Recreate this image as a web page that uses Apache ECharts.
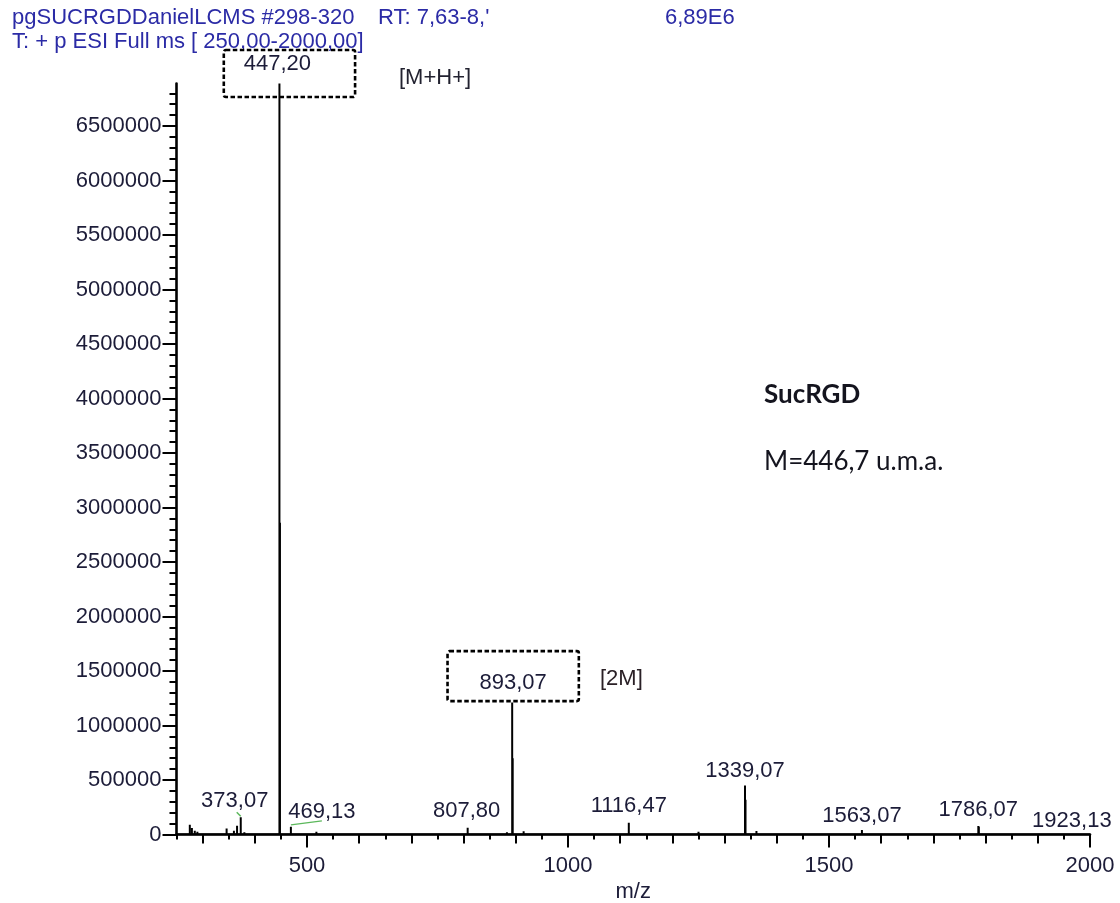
<!DOCTYPE html>
<html>
<head>
<meta charset="utf-8">
<script src="https://cdn.jsdelivr.net/npm/echarts@6/dist/echarts.min.js"></script>
<style>
  html, body { margin: 0; padding: 0; background: #ffffff; }
  #chart { width: 1120px; height: 903px; }
</style>
</head>
<body>
<div id="chart"></div>
<script>
// Centroided ESI(+) full-scan spectrum of SucRGD, m/z 250-2000
const peakMz = [
  275.5, 279.5, 285.0, 290.0, 346.0, 360.0, 366.0, 373.07, 380.0, 436.0,
  447.20, 448.20, 469.13, 518.0, 807.80, 883.0, 893.07, 894.07, 915.0,
  1116.47, 1250.0, 1339.07, 1340.07, 1361.0, 1563.07, 1786.07, 1787.07, 1923.13
];
const peakIntensity = [
  90000, 60000, 35000, 25000, 55000, 35000, 80000, 158000, 20000, 15000,
  6890000, 2860000, 70000, 25000, 62000, 20000, 1210000, 700000, 30000,
  108000, 25000, 450000, 318000, 32000, 41000, 78000, 70000, 8000
];

// Peaks that carry an m/z annotation
const labelledMz = [373.07, 447.20, 469.13, 807.80, 893.07, 1116.47, 1339.07, 1563.07, 1786.07, 1923.13];
// Peaks whose annotation is framed by a dashed box
const boxedMz = [447.20, 893.07];
// Peaks whose annotation is tied to the stick by a leader
const leaderMz = [373.07, 469.13];

// Axis ticks
const xTickLabels = [500, 1000, 1500, 2000];
const yTickLabels = [0, 500000, 1000000, 1500000, 2000000, 2500000, 3000000,
  3500000, 4000000, 4500000, 5000000, 5500000, 6000000, 6500000];

// Header text of the acquisition
const headerLine1 = 'pgSUCRGDDanielLCMS #298-320';
const headerRT = "RT: 7,63-8,'";
const headerMax = '6,89E6';
const headerLine2 = 'T: + p ESI Full ms [ 250,00-2000,00]';
const compoundName = 'SucRGD';
const compoundMass = 'M=446,7 u.m.a.';
const ionTags = ['[M+H+]', '[2M]'];

// ---------- layout / style tables ----------
const FONT = 'Arial, "Liberation Sans", Helvetica, sans-serif';
const LABEL_COLOR = '#1c1c38';
const HEADER_COLOR = '#2b2ba6';

// label nudges [dx, dy, distance] per annotated peak
const labelNudge = {
  '373.07': [-6, 0, 5],
  '447.2': [10, 13.5, 0],
  '469.13': [31, 0, 4],
  '807.8': [-1, 0, 6],
  '893.07': [1, 0, 1.5],
  '1116.47': [0, 0, 6],
  '1339.07': [0, 0, 4],
  '1563.07': [0, 0, 3],
  '1786.07': [0, 0, 5],
  '1923.13': [22, 0, 2]
};
// paddings of the dashed frames [top, right, bottom, left]
const boxPadding = {
  '447.2': [3, 44, 22, 20],
  '893.07': [21, 32, 7, 32]
};
// leader segments relative to the stick top: [x0, y0, x1, y1]
const leaderShape = {
  '373.07': [0, -1, -4, -5],
  '469.13': [0, -2, 31, -6]
};

const fmt = v => v.toFixed(2).replace('.', ',');
const plain = v => String(v);
const intensityOf = m => peakIntensity[peakMz.indexOf(m)];

// Stick spectrum drawn as one polyline returning to the baseline
const stickData = [[250, 0]];
peakMz.forEach((m, i) => {
  stickData.push([m, 0], [m, peakIntensity[i]], [m, 0]);
});
stickData.push([2000, 0]);

const labelData = labelledMz.map(m => {
  const key = String(m);
  const n = labelNudge[key] || [0, 0, 5];
  const label = {
    show: true,
    position: 'top',
    distance: n[2],
    offset: [n[0], n[1]],
    color: LABEL_COLOR,
    formatter: fmt(m)
  };
  if (boxedMz.indexOf(m) >= 0) {
    Object.assign(label, {
      borderColor: '#000',
      borderWidth: 2.6,
      borderType: [4.5, 2.5],
      borderRadius: 2,
      padding: boxPadding[key]
    });
  }
  return { value: [m, intensityOf(m)], label };
});

const leaderData = leaderMz.map(m => [m, intensityOf(m)]);

// Tick positions for the three tick lengths on the m/z axis
const xMinor = [], xMid = [];
for (let v = 250; v <= 2000; v += 50) xMinor.push(v);
for (let v = 300; v <= 2000; v += 100) xMid.push(v);
const yMinor = [];
for (let v = 0; v <= 6800000; v += 100000) yMinor.push(v);

const X_MIN = 250, X_MAX = 2000, Y_MIN = 0, Y_MAX = 6890000;

const axisLineStyle = { color: '#000', width: 2.6 };
const tickLine = { color: '#000', width: 2 };

const baseX = {
  type: 'value', min: X_MIN, max: X_MAX, position: 'bottom',
  axisLine: { show: false, onZero: false },
  splitLine: { show: false },
  axisLabel: { show: false }
};
const baseY = {
  type: 'value', min: Y_MIN, max: Y_MAX, position: 'left',
  axisLine: { show: false, onZero: false },
  splitLine: { show: false },
  axisLabel: { show: false }
};

const chart = echarts.init(document.getElementById('chart'), null, { renderer: 'canvas' });

const option = {
  animation: false,
  backgroundColor: '#ffffff',
  grid: {
    left: 176.5, right: 30, top: 83.5, bottom: 68.5,
    containLabel: false, outerBoundsMode: 'none'
  },
  xAxis: [
    Object.assign({}, baseX, {
      axisLine: { show: true, onZero: false, lineStyle: axisLineStyle },
      axisTick: { show: true, customValues: xMinor, length: 5, lineStyle: tickLine }
    }),
    Object.assign({}, baseX, {
      axisTick: { show: true, customValues: xMid, length: 9, lineStyle: tickLine }
    }),
    Object.assign({}, baseX, {
      axisTick: { show: true, customValues: xTickLabels, length: 13, lineStyle: tickLine },
      axisLabel: {
        show: true, customValues: xTickLabels, margin: 20, formatter: plain,
        fontFamily: FONT, fontSize: 22, color: LABEL_COLOR
      },
      name: 'm/z', nameLocation: 'middle', nameGap: 41,
      nameTextStyle: { fontFamily: FONT, fontSize: 22, color: LABEL_COLOR }
    })
  ],
  yAxis: [
    Object.assign({}, baseY, {
      axisLine: { show: true, onZero: false, lineStyle: axisLineStyle },
      axisTick: { show: true, customValues: yMinor, length: 7, lineStyle: tickLine }
    }),
    Object.assign({}, baseY, {
      axisTick: { show: true, customValues: yTickLabels, length: 14, lineStyle: tickLine },
      axisLabel: {
        show: true, customValues: yTickLabels, margin: 15, formatter: plain,
        fontFamily: FONT, fontSize: 22, color: LABEL_COLOR
      }
    })
  ],
  series: [
    {
      name: 'spectrum',
      type: 'line',
      xAxisIndex: 0, yAxisIndex: 0,
      data: stickData,
      showSymbol: false,
      symbol: 'none',
      silent: true,
      lineStyle: { color: '#000', width: 2, join: 'bevel' },
      z: 3
    },
    {
      name: 'annotations',
      type: 'scatter',
      xAxisIndex: 0, yAxisIndex: 0,
      data: labelData,
      symbolSize: 0,
      silent: true,
      itemStyle: { opacity: 1 },
      label: {
        fontFamily: FONT, fontSize: 22, color: LABEL_COLOR, lineHeight: 22
      },
      z: 4
    },
    {
      name: 'leaders',
      type: 'custom',
      xAxisIndex: 0, yAxisIndex: 0,
      data: leaderData,
      silent: true,
      renderItem: function (params, api) {
        const m = api.value(0);
        const p = api.coord([m, api.value(1)]);
        const s = leaderShape[String(m)];
        return {
          type: 'line',
          shape: { x1: p[0] + s[0], y1: p[1] + s[1], x2: p[0] + s[2], y2: p[1] + s[3] },
          style: { stroke: '#5cb85c', lineWidth: 1.5 }
        };
      },
      z: 2
    }
  ],
  graphic: [
    { type: 'text', left: 12, top: 7, style: { text: headerLine1, font: '22px ' + FONT, fill: HEADER_COLOR } },
    { type: 'text', left: 378, top: 7, style: { text: headerRT, font: '22px ' + FONT, fill: HEADER_COLOR } },
    { type: 'text', left: 665, top: 7, style: { text: headerMax, font: '22px ' + FONT, fill: HEADER_COLOR } },
    { type: 'text', left: 12, top: 31, style: { text: headerLine2, font: '22px ' + FONT, fill: HEADER_COLOR } },
    { type: 'text', left: 399, top: 67, style: { text: ionTags[0], font: '22px ' + FONT, fill: '#222230' } },
    { type: 'text', left: 600, top: 668, style: { text: ionTags[1], font: '22px ' + FONT, fill: '#2a2026' } },
    { type: 'text', left: 764, top: 382, style: { text: compoundName, font: 'bold 26px Lato, "Open Sans", sans-serif', fill: '#14141e' } },
    { type: 'text', left: 764, top: 449, style: { text: compoundMass, font: '26px Lato, "Open Sans", sans-serif', fill: '#14141e' } }
  ]
};

chart.setOption(option);
</script>
</body>
</html>
